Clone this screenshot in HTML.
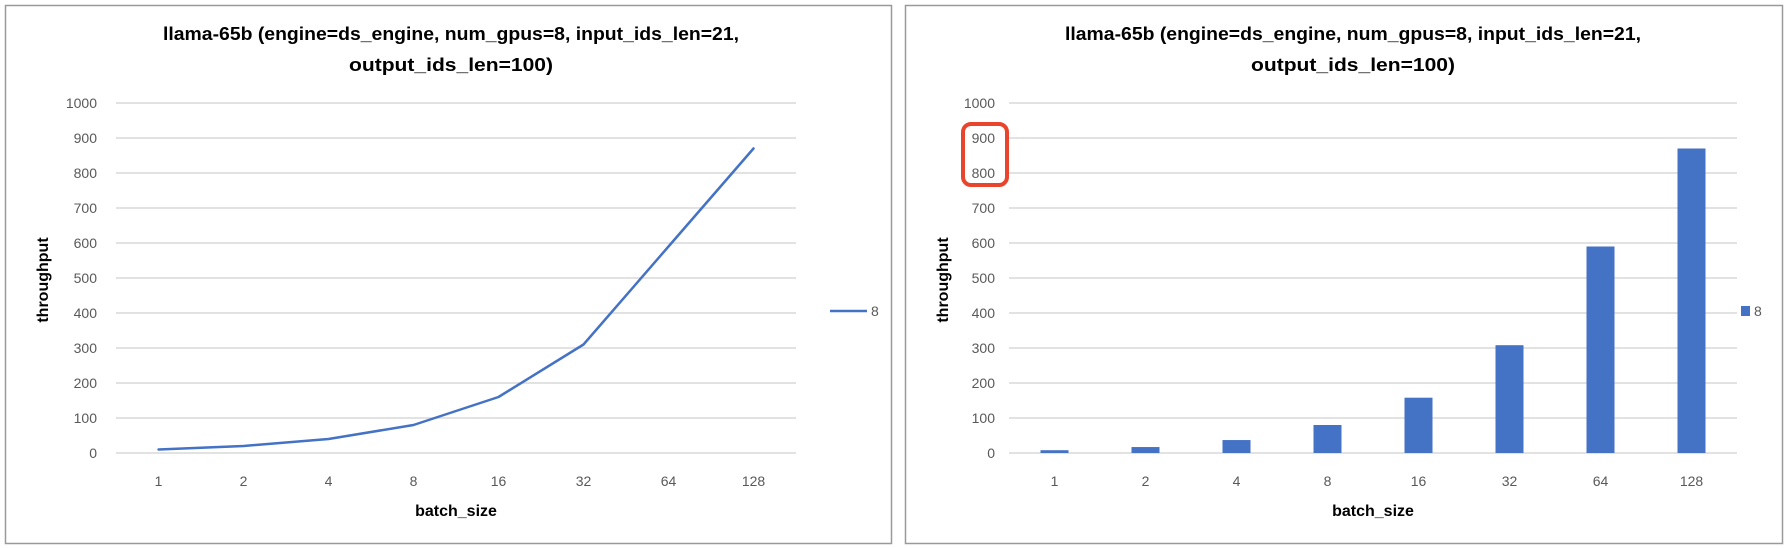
<!DOCTYPE html>
<html><head><meta charset="utf-8"><style>
html,body{margin:0;padding:0;background:#fff;}
svg{display:block;font-family:"Liberation Sans",sans-serif;}
</style></head><body>
<svg id="c" width="1788" height="548" xmlns="http://www.w3.org/2000/svg"></svg>
<script>
const categories = ["1","2","4","8","16","32","64","128"];
const lineValues = [10,20,40,80,160,310,590,870];
const barValues = [8,17,37,80,158,308,590,870];
const yTicks = [0,100,200,300,400,500,600,700,800,900,1000];
const titleLines = ["llama-65b (engine=ds_engine, num_gpus=8, input_ids_len=21,","output_ids_len=100)"];
const seriesName = "8";

const svg = document.getElementById('c');
const NS = "http://www.w3.org/2000/svg";
function mk(tag, attrs, parent){
  const e = document.createElementNS(NS, tag);
  for (const k in attrs) e.setAttribute(k, attrs[k]);
  (parent||svg).appendChild(e);
  return e;
}
const yTop = 103, yBot = 453, yMax = 1000;
function yScale(v){ return yBot - (v / yMax) * (yBot - yTop); }

function panel(px0, px1, gx0, gx1, labelX, legX, titleCx, type){
  const g = mk('g', {});
  
  
  const border = mk('rect', {x:px0+0.5, y:5.5, width:px1-px0, height:538, fill:'#fff', stroke:'#9a9a9a', 'stroke-width':1.5}, g);
  
  
  titleLines.forEach((t, i) => {
    const tt = mk('text', {x:titleCx, y:40 + i*31, 'text-anchor':'middle', 'font-size':18, 'font-weight':'bold', fill:'#000', textLength: i===0 ? 576 : 204, lengthAdjust:'spacingAndGlyphs'}, g);
    tt.textContent = t;
    
    
  });
  yTicks.forEach(v => {
    const y = yScale(v);
    const gl = mk('line', {x1:gx0, x2:gx1, y1:y, y2:y, stroke:'#d9d9d9', 'stroke-width':1.5}, g);
    
    
    const tl = mk('text', {x:labelX, y:y+5, 'text-anchor':'end', 'font-size':14, fill:'#595959'}, g);
    tl.textContent = v;
    
    
  });
  const step = (gx1 - gx0) / categories.length;
  const xc = i => gx0 + step * (i + 0.5);
  categories.forEach((c, i) => {
    const tl = mk('text', {x:xc(i), y:486, 'text-anchor':'middle', 'font-size':14, fill:'#595959'}, g);
    tl.textContent = c;
    
    
  });
  const xt = mk('text', {x:(gx0+gx1)/2, y:516, 'text-anchor':'middle', 'font-size':16, 'font-weight':'bold', fill:'#000'}, g);
  xt.textContent = 'batch_size';
  
  
  const yt = mk('text', {x:0, y:0, 'text-anchor':'middle', 'font-size':16, 'font-weight':'bold', fill:'#000', transform:'translate(' + (px0+43) + ',280) rotate(-90)'}, g);
  yt.textContent = 'throughput';
  
  
  if (type === 'line') {
    const pts = lineValues.map((v, i) => xc(i) + ',' + yScale(v)).join(' ');
    const pl = mk('polyline', {points:pts, fill:'none', stroke:'#4472c4', 'stroke-width':2.5, 'stroke-linejoin':'round', 'stroke-linecap':'round'}, g);
    
    
    const ll = mk('line', {x1:legX+4, x2:legX+41, y1:311, y2:311, stroke:'#4472c4', 'stroke-width':2.5}, g);
    
    
    const lt = mk('text', {x:legX+45, y:316, 'font-size':14, fill:'#595959'}, g);
    lt.textContent = seriesName;
    
    
  } else {
    const bw = 28;
    barValues.forEach((v, i) => {
      const b = mk('rect', {x:xc(i)-bw/2, y:yScale(v), width:bw, height:yBot-yScale(v), fill:'#4472c4'}, g);
      
      
    });
    const ls = mk('rect', {x:legX, y:306, width:9, height:10, fill:'#4472c4'}, g);
    
    
    const lt = mk('text', {x:legX+13, y:316, 'font-size':14, fill:'#595959'}, g);
    lt.textContent = seriesName;
    
    
  }
}
panel(5, 891, 116, 796, 97, 826, 451, 'line');
panel(905, 1782, 1009, 1737, 995, 1741, 1353, 'bar');
const hl = mk('rect', {x:963, y:124, width:44, height:61, rx:8, ry:8, fill:'none', stroke:'#e8452c', 'stroke-width':4});


</script>
</body></html>
